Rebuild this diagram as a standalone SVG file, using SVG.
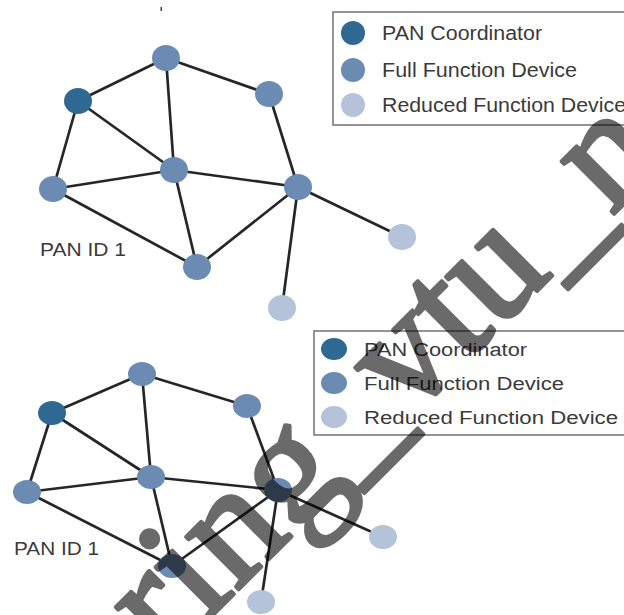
<svg xmlns="http://www.w3.org/2000/svg" width="624" height="615" viewBox="0 0 624 615">
<style>
.edge{stroke:#262626;stroke-width:2.7;stroke-linecap:round;fill:none}
.pc{fill:#2f6892}
.ffd{fill:#6b8bb3}
.rfd{fill:#b4c3d9}
.lbl{font-family:"Liberation Sans",Arial,sans-serif;fill:#3a3a3a}
.box{fill:none;stroke:#7a7a7a;stroke-width:1.6}
.wm{font-family:"Liberation Serif","Times New Roman",serif;font-size:162px;fill:#000;stroke:#000;stroke-width:4;stroke-linejoin:round}
</style>
<rect width="624" height="615" fill="#fff"/>
<rect x="160.5" y="7" width="1.4" height="4" fill="#334"/>

<!-- Top network -->
<g id="edges-top">
<line class="edge" x1="78" y1="101" x2="166" y2="58"/>
<line class="edge" x1="166" y1="58" x2="269" y2="94"/>
<line class="edge" x1="166" y1="58" x2="174" y2="170"/>
<line class="edge" x1="78" y1="101" x2="174" y2="170"/>
<line class="edge" x1="78" y1="101" x2="53" y2="189"/>
<line class="edge" x1="53" y1="189" x2="174" y2="170"/>
<line class="edge" x1="53" y1="189" x2="197" y2="267"/>
<line class="edge" x1="174" y1="170" x2="197" y2="267"/>
<line class="edge" x1="174" y1="170" x2="298" y2="187"/>
<line class="edge" x1="269" y1="94" x2="298" y2="187"/>
<line class="edge" x1="298" y1="187" x2="197" y2="267"/>
<line class="edge" x1="298" y1="187" x2="402" y2="237"/>
<line class="edge" x1="298" y1="187" x2="282" y2="308"/>
</g>
<g id="t-top"><ellipse class="ffd" cx="166" cy="58" rx="14" ry="13"/></g>
<g id="t-coord"><ellipse class="pc" cx="78" cy="101" rx="14" ry="13"/></g>
<g id="t-righttop"><ellipse class="ffd" cx="269" cy="94" rx="14" ry="13"/></g>
<g id="t-center"><ellipse class="ffd" cx="174" cy="170" rx="14" ry="13"/></g>
<g id="t-left"><ellipse class="ffd" cx="53" cy="189" rx="14" ry="13"/></g>
<g id="t-hub"><ellipse class="ffd" cx="298" cy="187" rx="14" ry="13"/></g>
<g id="t-bottom"><ellipse class="ffd" cx="197" cy="267" rx="14" ry="13"/></g>
<g id="t-rfd1"><ellipse class="rfd" cx="402" cy="237" rx="14" ry="13"/></g>
<g id="t-rfd2"><ellipse class="rfd" cx="282" cy="308" rx="14" ry="13"/></g>
<text class="lbl" x="40" y="256" font-size="18.5" textLength="86" lengthAdjust="spacingAndGlyphs">PAN ID 1</text>

<g id="legend-top">
<rect class="box" x="333" y="12" width="300" height="113"/>
<ellipse class="pc" cx="353" cy="33" rx="12" ry="12"/>
<ellipse class="ffd" cx="353" cy="70" rx="12" ry="12"/>
<ellipse class="rfd" cx="353" cy="105" rx="12" ry="12"/>
<text class="lbl" x="382" y="40" font-size="20" textLength="160" lengthAdjust="spacingAndGlyphs">PAN Coordinator</text>
<text class="lbl" x="382" y="77" font-size="20" textLength="195" lengthAdjust="spacingAndGlyphs">Full Function Device</text>
<text class="lbl" x="382" y="112" font-size="20" textLength="244" lengthAdjust="spacingAndGlyphs">Reduced Function Device</text>
</g>

<!-- Bottom network -->
<g id="edges-bottom">
<line class="edge" x1="52" y1="413" x2="142" y2="374"/>
<line class="edge" x1="142" y1="374" x2="247" y2="406"/>
<line class="edge" x1="142" y1="374" x2="151" y2="477"/>
<line class="edge" x1="52" y1="413" x2="151" y2="477"/>
<line class="edge" x1="52" y1="413" x2="27" y2="492"/>
<line class="edge" x1="27" y1="492" x2="151" y2="477"/>
<line class="edge" x1="27" y1="492" x2="172" y2="566"/>
<line class="edge" x1="151" y1="477" x2="172" y2="566"/>
<line class="edge" x1="151" y1="477" x2="278" y2="490"/>
<line class="edge" x1="247" y1="406" x2="278" y2="490"/>
<line class="edge" x1="278" y1="490" x2="172" y2="566"/>
<line class="edge" x1="278" y1="490" x2="383" y2="537"/>
<line class="edge" x1="278" y1="490" x2="261" y2="602"/>
</g>
<g id="b-top"><ellipse class="ffd" cx="142" cy="374" rx="14" ry="12"/></g>
<g id="b-coord"><ellipse class="pc" cx="52" cy="413" rx="14" ry="12"/></g>
<g id="b-righttop"><ellipse class="ffd" cx="247" cy="406" rx="14" ry="12"/></g>
<g id="b-center"><ellipse class="ffd" cx="151" cy="477" rx="14" ry="12"/></g>
<g id="b-left"><ellipse class="ffd" cx="27" cy="492" rx="14" ry="12"/></g>
<g id="b-hub"><ellipse class="ffd" cx="278" cy="490" rx="14" ry="12"/></g>
<g id="b-bottom"><ellipse class="ffd" cx="172" cy="566" rx="14" ry="12"/></g>
<g id="b-rfd1"><ellipse class="rfd" cx="383" cy="537" rx="14" ry="12"/></g>
<g id="b-rfd2"><ellipse class="rfd" cx="261" cy="602" rx="14" ry="12"/></g>
<text class="lbl" x="14" y="555" font-size="17.5" textLength="85" lengthAdjust="spacingAndGlyphs">PAN ID 1</text>

<g id="legend-bottom">
<rect class="box" x="314" y="331" width="320" height="104"/>
<ellipse class="pc" cx="334" cy="349" rx="13" ry="11"/>
<ellipse class="ffd" cx="334" cy="383" rx="13" ry="11"/>
<ellipse class="rfd" cx="334" cy="417" rx="13" ry="11"/>
<text class="lbl" x="364" y="355.5" font-size="18" textLength="163" lengthAdjust="spacingAndGlyphs">PAN Coordinator</text>
<text class="lbl" x="364" y="389.5" font-size="18" textLength="200" lengthAdjust="spacingAndGlyphs">Full Function Device</text>
<text class="lbl" x="364" y="423.5" font-size="18" textLength="254" lengthAdjust="spacingAndGlyphs">Reduced Function Device</text>
</g>

<g id="watermark" opacity="0.58">
<text class="wm" transform="translate(166,662) rotate(-45)">ring_vtu_n</text>
</g>
</svg>
